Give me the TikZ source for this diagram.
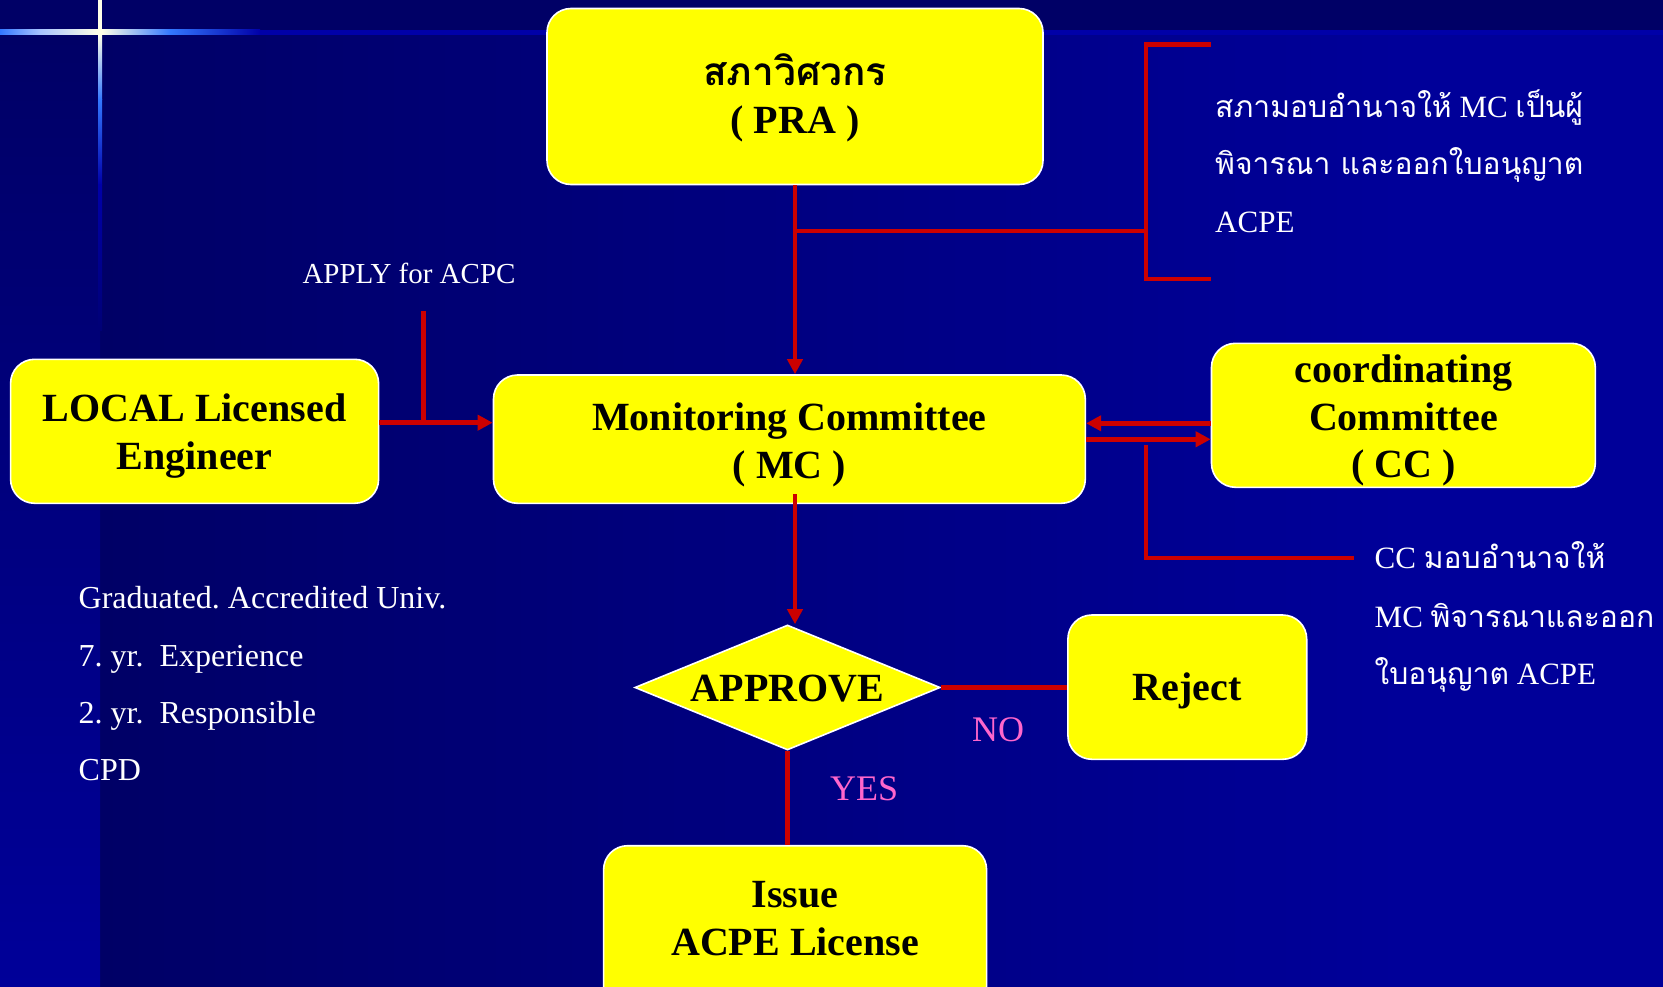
\documentclass[tikz,border=0pt]{standalone}
\usepackage{fontspec}
\setmainfont{Liberation Serif}
\newfontfamily\thai[Script=Thai,Scale=0.97]{Loma}
\usetikzlibrary{shapes.geometric,arrows.meta}
\definecolor{bgdark}{HTML}{000066}
\definecolor{bglight}{HTML}{000099}
\definecolor{lineblue}{HTML}{0000A8}
\definecolor{glowblue}{HTML}{3377FF}
\definecolor{glowpale}{HTML}{A8C4FF}
\definecolor{cream}{HTML}{FFFFE8}
\definecolor{boxyellow}{HTML}{FFFF00}
\definecolor{linkred}{HTML}{CC0000}
\definecolor{labelpink}{HTML}{FF66CC}
\frenchspacing
\begin{document}
\begin{tikzpicture}[x=1pt,y=-1pt,
  box/.style={rectangle, rounded corners=24pt, draw=white, line width=1.6pt,
    fill=boxyellow, align=center, inner sep=0pt,
    font=\bfseries\fontsize{40}{47.5}\selectfont},
  link/.style={draw=linkred, line width=4.5pt},
  arr/.style={link, -{Triangle[length=15pt,width=15pt]}},
  note/.style={text=white, anchor=base west, inner sep=0pt,
    font=\fontsize{31}{31}\selectfont},
  lbl/.style={text=labelpink, anchor=base west, inner sep=0pt,
    font=\fontsize{36}{36}\selectfont}]
\useasboundingbox (0,0) rectangle (1663,987);
\clip (0,0) rectangle (1663,987);
% background
\fill[bgdark] (0,0) rectangle (1663,987);
\shade[left color=bgdark, right color=bglight] (100,35) rectangle (1400,987);
\fill[bglight] (1400,35) rectangle (1663,987);
\shade[top color=bgdark, bottom color=bglight] (0,35) rectangle (100,987);
% decorative cross
\shade[left color=glowblue, right color=glowpale] (0,30) rectangle (40,35);
\shade[left color=glowpale, right color=cream] (40,30) rectangle (98,35);
\shade[left color=cream, right color=glowblue] (102,30) rectangle (170,35);
\shade[left color=glowblue, right color=lineblue] (170,30) rectangle (260,35);
\fill[lineblue] (260,30) rectangle (1663,35);
\fill[cream] (98,0) rectangle (102,35);
\shade[top color=cream, bottom color=glowblue] (98,35) rectangle (102,100);
\shade[top color=glowblue, bottom color=lineblue] (98,100) rectangle (102,185);
\shade[top color=lineblue, bottom color=bgdark!70!bglight] (98,185) rectangle (102,330);

% boxes
\node[box, minimum width=496pt, text height=124.8pt, text depth=51.2pt] (pra) at (795,96.5)
  {{\thai สภาวิศวกร}\\( PRA )};
\node[box, minimum width=368pt, text height=110pt, text depth=34pt] (local) at (194.6,431.3)
  {LOCAL Licensed\\Engineer};
\node[box, minimum width=591.8pt, text height=103pt, text depth=25.3pt] (mc) at (789.4,439.15)
  {Monitoring Committee\\( MC )};
\node[box, minimum width=383.8pt, text height=134.4pt, text depth=9.6pt] (cc) at (1403.4,415.3)
  {coordinating\\Committee\\( CC )};
\node[box, minimum width=238.8pt, text height=85pt, text depth=59.3pt] (reject) at (1187.3,687.15)
  {Reject};
\node[box, minimum width=383pt, text height=109.3pt, text depth=55pt] (issue) at (795.1,927.85)
  {Issue\\ACPE License};
\node[diamond, draw=white, line width=1.6pt, fill=boxyellow, inner sep=0pt,
  shape aspect=2.45, minimum width=305.4pt, minimum height=125pt,
  text height=27pt, text depth=0pt, font=\bfseries\fontsize{40}{47.5}\selectfont]
  (approve) at (787.5,687.5) {APPROVE};

% notes
\node[note] (n1) at (1215,118) {{\thai สภามอบอำนาจให้} MC {\thai เป็นผู้}};
\node[note] (n2) at (1215,175) {{\thai พิจารณา และออกใบอนุญาต}};
\node[note] (n3) at (1215,233) {ACPE};
\node[note] (c1) at (1374.5,568) {CC {\thai มอบอำนาจให้}};
\node[note] (c2) at (1374.5,627) {MC {\thai พิจารณาและออก}};
\node[note] (c3) at (1374.5,684) {{\thai ใบอนุญาต} ACPE};
\node[note, font=\fontsize{32}{32}\selectfont] (g1) at (78.5,608) {Graduated. Accredited Univ.};
\node[note, font=\fontsize{32}{32}\selectfont] (g2) at (78.5,666.7) {7. yr.\ \ Experience};
\node[note, font=\fontsize{32}{32}\selectfont] (g3) at (78.5,723) {2. yr.\ \ Responsible};
\node[note, font=\fontsize{32}{32}\selectfont] (g4) at (78.5,780.7) {CPD};
\node[note, font=\fontsize{29}{29}\selectfont] (apply) at (302.3,283.3) {APPLY for ACPC};
\node[lbl] (no) at (971.9,741.7) {NO};
\node[lbl] (yes) at (830,800) {YES};

% connectors
\coordinate (prab) at (1146,231);
\coordinate (b1a) at (1211,44.5);
\coordinate (b1b) at (1146,44.5);
\coordinate (b1c) at (1146,279);
\coordinate (b1d) at (1211,279);
\draw[arr] (pra.south) -- (pra.south |- mc.north);
\draw[link] (pra.south |- prab) -- (prab);
\draw[link] (b1a) -- (b1b) -- (b1c) -- (b1d);

\coordinate (apt) at (423.6,311);
\coordinate (apj) at (423.6,422.7);
\draw[link] (apt) -- (apj);
\draw[arr] (local.east |- apj) -- (mc.west |- apj);

\coordinate (cu) at (1150,423.3);
\coordinate (cl) at (1150,439.3);
\draw[arr] (cc.west |- cu) -- (mc.east |- cu);
\draw[arr] (mc.east |- cl) -- (cc.west |- cl);
\coordinate (cb1) at (1146,445);
\coordinate (cb2) at (1354,558);
\draw[link] (cb1) |- (cb2);

\draw[arr] ([yshift=10pt]mc.south -| pra.south) -- (approve.north -| pra.south);
\draw[link] (approve.east) -- (approve.east -| reject.west);
\draw[link] (approve.south) -- (approve.south |- issue.north);
\end{tikzpicture}
\end{document}
